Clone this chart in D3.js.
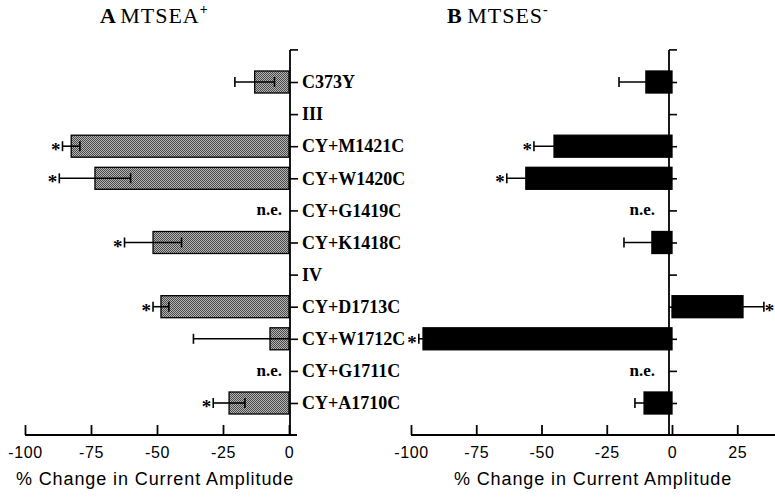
<!DOCTYPE html>
<html>
<head>
<meta charset="utf-8">
<script src="https://cdn.jsdelivr.net/npm/d3@7"></script>
<style>
body { margin: 0; background: #fff; }
svg { display: block; }
</style>
</head>
<body>
<div id="chart"></div>
<script>
// rows, top to bottom ("III" and "IV" are segment headers, no data)
var categories = ["C373Y", "III", "CY+M1421C", "CY+W1420C", "CY+G1419C", "CY+K1418C",
                  "IV", "CY+D1713C", "CY+W1712C", "CY+G1711C", "CY+A1710C"];

// A: MTSEA+  (% change, error = +/- SEM)
var mtseaMean = [-13, null, -82.5, -73.5, null, -51.5, null, -48.5, -7.2, null, -22.7];
var mtseaErr  = [7.5, null, 3.3, 13.5, null, 10.8, null, 3, 29, null, 6];
var mtseaSig  = [false, false, true, true, false, true, false, true, false, false, true];
var mtseaNE   = ["CY+G1419C", "CY+G1711C"];

// B: MTSES-
var mtsesMean = [-10, null, -45.2, -56, null, -7.7, null, 27.2, -95.4, null, -10.7];
var mtsesErr  = [10.3, null, 7.7, 7.3, null, 10.7, null, 8, 1.6, null, 3.5];
var mtsesSig  = [false, false, true, true, false, false, false, true, true, false, false];
var mtsesNE   = ["CY+G1419C", "CY+G1711C"];

var xTicksA = [-100, -75, -50, -25, 0];
var xTicksB = [-100, -75, -50, -25, 0, 25];
var xTitle = "% Change in Current Amplitude";

var width = 775, height = 499,
    serif = "'Times New Roman', 'Liberation Serif', serif",
    sans = "Arial, 'Liberation Sans', sans-serif",
    axisY = 435,
    barH = 22,
    lw = 1.6;

var svg = d3.select("#chart").append("svg")
    .attr("width", width)
    .attr("height", height);

svg.append("rect").attr("width", width).attr("height", height).attr("fill", "#fff");

// stippled fill for panel A
var pat = svg.append("defs").append("pattern")
    .attr("id", "stip")
    .attr("width", 2).attr("height", 2)
    .attr("patternUnits", "userSpaceOnUse");
pat.append("rect").attr("width", 2).attr("height", 2).attr("fill", "#b4b4b4");
pat.append("rect").attr("x", 0).attr("y", 0).attr("width", 1).attr("height", 1).attr("fill", "#4a4a4a");
pat.append("rect").attr("x", 1).attr("y", 1).attr("width", 1).attr("height", 1).attr("fill", "#4a4a4a");

var y = d3.scalePoint().domain(categories).range([82, 403]);

var drawPanel = function(p) {
    var x = d3.scaleLinear().domain(p.domain).range(p.range);
    var g = svg.append("g");
    var yAxisX = x(0) + p.yShift;

    var rows = categories.map(function(c, i) {
        return { cat: c, mean: p.mean[i], err: p.err[i], sig: p.sig[i] };
    });
    var withData = rows.filter(function(d) { return d.mean !== null; });

    // x axis, ticks pointing up; plain hyphen for negatives like the original
    var xAxis = g.append("g")
        .attr("transform", "translate(0," + axisY + ")")
        .call(d3.axisBottom(x).tickValues(p.ticks).tickSizeInner(-10).tickSizeOuter(0).tickPadding(12)
            .tickFormat(function(d) { return String(d); }));
    xAxis.select(".domain").attr("d", "M" + p.range[0] + ",0H" + p.axisEnd)
        .attr("stroke-width", lw + 0.4);
    xAxis.selectAll(".tick line").attr("stroke-width", lw + 0.2);
    xAxis.selectAll(".tick text")
        .attr("font-family", sans).attr("font-size", 16).attr("letter-spacing", 0.6)
        .attr("fill", "#000");

    g.append("text")
        .attr("x", p.titleCx).attr("y", 485)
        .attr("text-anchor", "middle")
        .attr("font-family", sans).attr("font-size", 18).attr("letter-spacing", 0.9)
        .text(xTitle);

    // y axis
    var top = y(categories[0]) - y.step(),
        yAxis = g.append("g")
            .attr("transform", "translate(" + yAxisX + ",0)")
            .call(d3.axisRight(y).tickSize(8).tickPadding(4)
                .tickFormat(p.showLabels ? null : ""));
    yAxis.select(".domain").remove();
    yAxis.selectAll(".tick line").attr("stroke-width", lw);
    yAxis.selectAll(".tick text")
        .attr("font-family", serif).attr("font-size", 18).attr("font-weight", "bold")
        .attr("fill", "#000");
    g.append("line")
        .attr("x1", yAxisX).attr("x2", yAxisX)
        .attr("y1", top).attr("y2", axisY)
        .attr("stroke", "#000").attr("stroke-width", lw + 0.2);
    g.append("line")
        .attr("x1", yAxisX).attr("x2", yAxisX + 8)
        .attr("y1", top).attr("y2", top)
        .attr("stroke", "#000").attr("stroke-width", lw);

    // bars
    g.selectAll(".bar").data(withData).enter().append("rect")
        .attr("class", "bar")
        .attr("x", function(d) { return x(Math.min(0, d.mean)); })
        .attr("y", function(d) { return y(d.cat) - barH / 2; })
        .attr("width", function(d) { return Math.abs(x(d.mean) - x(0)); })
        .attr("height", barH)
        .attr("fill", p.fill)
        .attr("stroke", "#000").attr("stroke-width", 1.3);

    // error bars, clipped at zero
    var eb = g.selectAll(".eb").data(withData).enter().append("g").attr("class", "eb");
    var ends = function(d) {
        var lo = d.mean - d.err, hi = d.mean + d.err;
        var loC = false, hiC = false;
        if (d.mean < 0 && hi > 0) { hi = 0; hiC = true; }
        if (d.mean > 0 && lo < 0) { lo = 0; loC = true; }
        return { lo: lo, hi: hi, loC: loC, hiC: hiC };
    };
    eb.append("line")
        .attr("x1", function(d) { return x(ends(d).lo); })
        .attr("x2", function(d) { return x(ends(d).hi); })
        .attr("y1", function(d) { return y(d.cat); })
        .attr("y2", function(d) { return y(d.cat); })
        .attr("stroke", "#000").attr("stroke-width", lw);
    eb.each(function(d) {
        var e = ends(d), cy = y(d.cat), sel = d3.select(this);
        [[e.lo, e.loC], [e.hi, e.hiC]].forEach(function(v) {
            if (v[1]) return;
            sel.append("line")
                .attr("x1", x(v[0])).attr("x2", x(v[0]))
                .attr("y1", cy - 5).attr("y2", cy + 5)
                .attr("stroke", "#000").attr("stroke-width", lw);
        });
    });

    // significance stars
    g.selectAll(".star").data(withData.filter(function(d) { return d.sig; })).enter().append("text")
        .attr("class", "star")
        .attr("x", function(d) {
            return d.mean < 0 ? x(d.mean - d.err) - 2 : x(d.mean + d.err) + 1;
        })
        .attr("y", function(d) { return y(d.cat) + 10; })
        .attr("text-anchor", function(d) { return d.mean < 0 ? "end" : "start"; })
        .attr("font-family", serif).attr("font-size", 19).attr("font-weight", "bold")
        .text("*");

    // not examined
    g.selectAll(".ne").data(p.ne).enter().append("text")
        .attr("class", "ne")
        .attr("x", yAxisX - p.neGap)
        .attr("y", function(d) { return y(d) + 5; })
        .attr("text-anchor", "end")
        .attr("font-family", serif).attr("font-size", 17).attr("font-weight", "bold")
        .text("n.e.");

    // panel title
    var t = g.append("text")
        .attr("x", p.titleX).attr("y", 23)
        .attr("font-family", serif).attr("font-size", 22);
    t.append("tspan").attr("font-weight", "bold").text(p.letter + " ");
    t.append("tspan").attr("letter-spacing", 1).text(p.name);
    t.append("tspan").attr("font-size", 14).attr("dy", -9).attr("font-weight", "bold").text(p.charge);
};

drawPanel({
    domain: [-100, 0], range: [25, 289], axisEnd: 297, yShift: 1,
    ticks: xTicksA, fill: "url(#stip)", mean: mtseaMean, err: mtseaErr, sig: mtseaSig,
    ne: mtseaNE, showLabels: true, neGap: 8, titleCx: 155, titleX: 100,
    letter: "A", name: "MTSEA", charge: "+"
});

drawPanel({
    domain: [-100, 40], range: [411, 776.4], axisEnd: 776,
    yShift: -3, ticks: xTicksB, fill: "#000", mean: mtsesMean, err: mtsesErr, sig: mtsesSig,
    ne: mtsesNE, showLabels: false, neGap: 14, titleCx: 593, titleX: 447,
    letter: "B", name: "MTSES", charge: "-"
});
</script>
</body>
</html>
